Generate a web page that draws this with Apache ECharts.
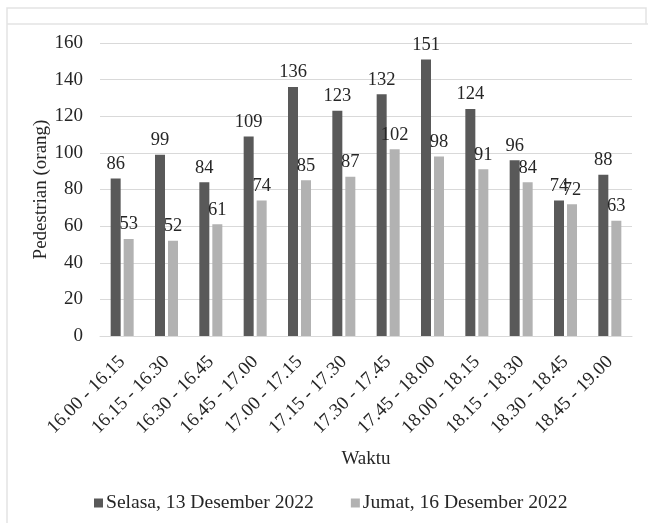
<!DOCTYPE html>
<html>
<head>
<meta charset="utf-8">
<script src="https://cdn.jsdelivr.net/npm/echarts@6/dist/echarts.min.js"></script>
<style>
  html, body { margin: 0; padding: 0; background: #ffffff; }
  #chart { width: 648px; height: 523px; }
</style>
</head>
<body>
<div id="chart"></div>
<script>
// Pedestrian counts per 15-minute interval
const categories = [
  '16.00 - 16.15', '16.15 - 16.30', '16.30 - 16.45', '16.45 - 17.00',
  '17.00 - 17.15', '17.15 - 17.30', '17.30 - 17.45', '17.45 - 18.00',
  '18.00 - 18.15', '18.15 - 18.30', '18.30 - 18.45', '18.45 - 19.00'
];
const selasa = [86, 99, 84, 109, 136, 123, 132, 151, 124, 96, 74, 88];
const jumat = [53, 52, 61, 74, 85, 87, 102, 98, 91, 84, 72, 63];
const seriesNames = ['Selasa, 13 Desember 2022', 'Jumat, 16 Desember 2022'];
const yTicks = { min: 0, max: 160, interval: 20 };

const FONT = '"Liberation Serif", "Times New Roman", serif';
const TXT = '#262626';
const GRID = '#d9d9d9';
const FRAME = '#e3e3e3';

const chart = echarts.init(document.getElementById('chart'), null, { renderer: 'canvas' });

const labelStyle = {
  show: true,
  position: 'top',
  distance: 5,
  fontFamily: FONT,
  fontSize: 18.5,
  color: TXT
};

chart.setOption({
  animation: false,
  backgroundColor: '#ffffff',
  textStyle: { fontFamily: FONT },
  grid: { left: 100, right: 16, top: 43, bottom: 187, containLabel: false },
  legend: {
    left: 89,
    top: 488,
    itemWidth: 9,
    itemHeight: 9,
    itemGap: 37,
    icon: 'rect',
    textStyle: { fontFamily: FONT, fontSize: 19.6, color: TXT, padding: [0, 0, 0, -2] },
    data: seriesNames
  },
  xAxis: {
    type: 'category',
    data: categories,
    name: 'Waktu',
    nameLocation: 'middle',
    nameGap: 114,
    nameMoveOverlap: false,
    nameTextStyle: { fontFamily: FONT, fontSize: 19, color: TXT },
    axisLine: { show: true, lineStyle: { color: GRID, width: 1 } },
    axisTick: { show: false },
    axisLabel: {
      rotate: 45,
      interval: 0,
      margin: 23,
      fontFamily: FONT,
      fontSize: 19,
      color: TXT
    }
  },
  yAxis: {
    type: 'value',
    min: yTicks.min,
    max: yTicks.max,
    interval: yTicks.interval,
    name: 'Pedestrian (orang)',
    nameLocation: 'middle',
    nameGap: 49,
    nameMoveOverlap: false,
    nameTextStyle: { fontFamily: FONT, fontSize: 19, color: TXT },
    axisLine: { show: false },
    axisTick: { show: false },
    axisLabel: { margin: 17, fontFamily: FONT, fontSize: 19, color: TXT },
    splitLine: { show: true, lineStyle: { color: GRID, width: 1 } }
  },
  series: [
    {
      name: seriesNames[0],
      type: 'bar',
      data: selasa,
      barWidth: 10,
      barGap: '30%',
      itemStyle: { color: '#595959' },
      label: labelStyle
    },
    {
      name: seriesNames[1],
      type: 'bar',
      data: jumat,
      barWidth: 10,
      barGap: '30%',
      itemStyle: { color: '#b2b2b2' },
      label: labelStyle
    }
  ],
  graphic: [
    // outer frame: thin top strip and the main panel border
    { type: 'polyline', silent: true,
      shape: { points: [[7, 523], [7, 8], [646, 8], [646, 24]] },
      style: { stroke: FRAME, lineWidth: 1.5, fill: null } },
    { type: 'line', silent: true,
      shape: { x1: 7, y1: 24, x2: 648, y2: 24 },
      style: { stroke: FRAME, lineWidth: 1.5 } }
  ]
});
</script>
</body>
</html>
